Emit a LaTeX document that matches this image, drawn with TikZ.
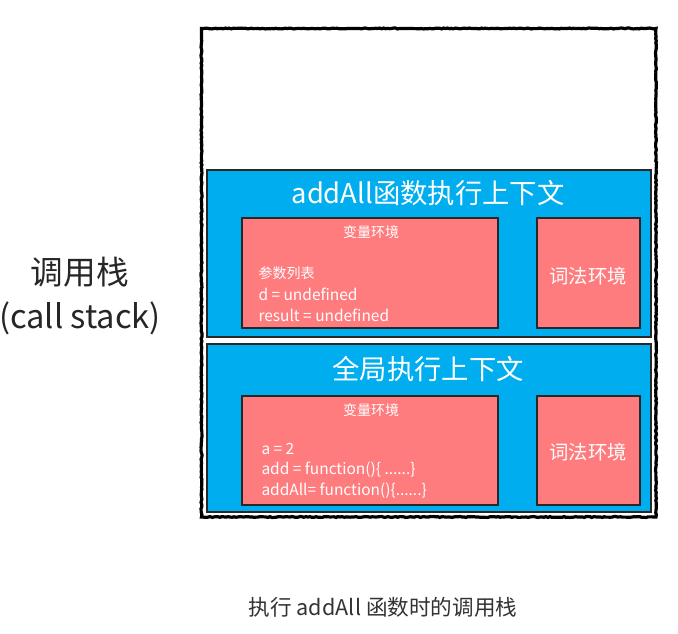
\documentclass[tikz,border=0pt]{standalone}
\usepackage{fontspec}
\setmainfont{Noto Sans CJK SC}
\usetikzlibrary{decorations.pathmorphing}

\definecolor{ctxblue}{RGB}{0,174,239}
\definecolor{envred}{RGB}{255,124,126}
\definecolor{edgegray}{RGB}{40,40,40}

\tikzset{every picture/.style={line width=0.75pt}}
\tikzset{
  ctxbox/.style={draw=edgegray, fill=ctxblue, line width=1.5},
  envbox/.style={draw=edgegray, fill=envred, line width=0.9},
  ctxtitle/.style={text=white, inner sep=0.75pt, font=\fontsize{20.5}{24}\selectfont},
  envtitle/.style={text=white, inner sep=0.75pt, font=\fontsize{10.5}{12}\selectfont},
  envline/.style={text=white, anchor=west, inner sep=0.75pt, font=\fontsize{11.6}{13}\selectfont},
  lextext/.style={text=white, inner sep=0.75pt, font=\fontsize{14.5}{17}\selectfont},
  sidetext/.style={text=black!85, inner sep=0.75pt, font=\fontsize{24.5}{28}\selectfont}
}

\begin{document}
\begin{tikzpicture}[x=0.75pt,y=0.75pt,yscale=-1,xscale=1]
\useasboundingbox (0,0) rectangle (678,634);

%Shape: Rectangle [stack frame]
\draw [line width=2.4, decorate, decoration={random steps, segment length=1.5pt, amplitude=0.35pt}] (201.5,28.5) -- (656,28.5) -- (656,517) -- (201.5,517) -- cycle ;

%Shape: Rectangle [addAll context]
\draw [ctxbox] (207,170) rectangle (651,337) ;
%Shape: Rectangle [global context]
\draw [ctxbox] (207,344) rectangle (651,512) ;

%Shape: Rectangle [variable env 1]
\draw [envbox] (242,218) rectangle (498,328) ;
%Shape: Rectangle [lexical env 1]
\draw [envbox] (537,218) rectangle (640,328) ;
%Shape: Rectangle [variable env 2]
\draw [envbox] (242,396) rectangle (498,505) ;
%Shape: Rectangle [lexical env 2]
\draw [envbox] (537,396) rectangle (640,505) ;

% Text Node
\draw (428,193) node [ctxtitle] (addalltitle) {addAll函数执行上下文};
% Text Node
\draw (428,369) node [ctxtitle] (globaltitle) {全局执行上下文};

% Text Node
\draw (371,232) node [envtitle] (varenvA) {变量环境};
% Text Node
\draw (257,273) node [envline, font=\fontsize{10.5}{12}\selectfont] (paramlist) {参数列表};
% Text Node
\draw (257,294) node [envline] (dline) {d = undefined};
% Text Node
\draw (257,315) node [envline] (resultline) {result = undefined};
% Text Node
\draw (588,276) node [lextext] (lexenvA) {词法环境};

% Text Node
\draw (371,410) node [envtitle] (varenvB) {变量环境};
% Text Node
\draw (260,449) node [envline] (aline) {a = 2};
% Text Node
\draw (260,470) node [envline] (addline) {add = function()\{ ......\}};
% Text Node
\draw (260,491) node [envline] (addallline) {addAll= function()\{......\}};
% Text Node
\draw (588,452) node [lextext] (lexenvB) {词法环境};

% Text Node
\draw (80,272) node [sidetext] (stackcn) {调用栈};
% Text Node
\draw (80,318) node [sidetext] (stacken) {(call stack)};

% Text Node
\draw (383,607) node [inner sep=0.75pt, text=black!80, font=\fontsize{16.2}{19}\selectfont] (caption) {执行 addAll 函数时的调用栈};
\end{tikzpicture}
\end{document}
